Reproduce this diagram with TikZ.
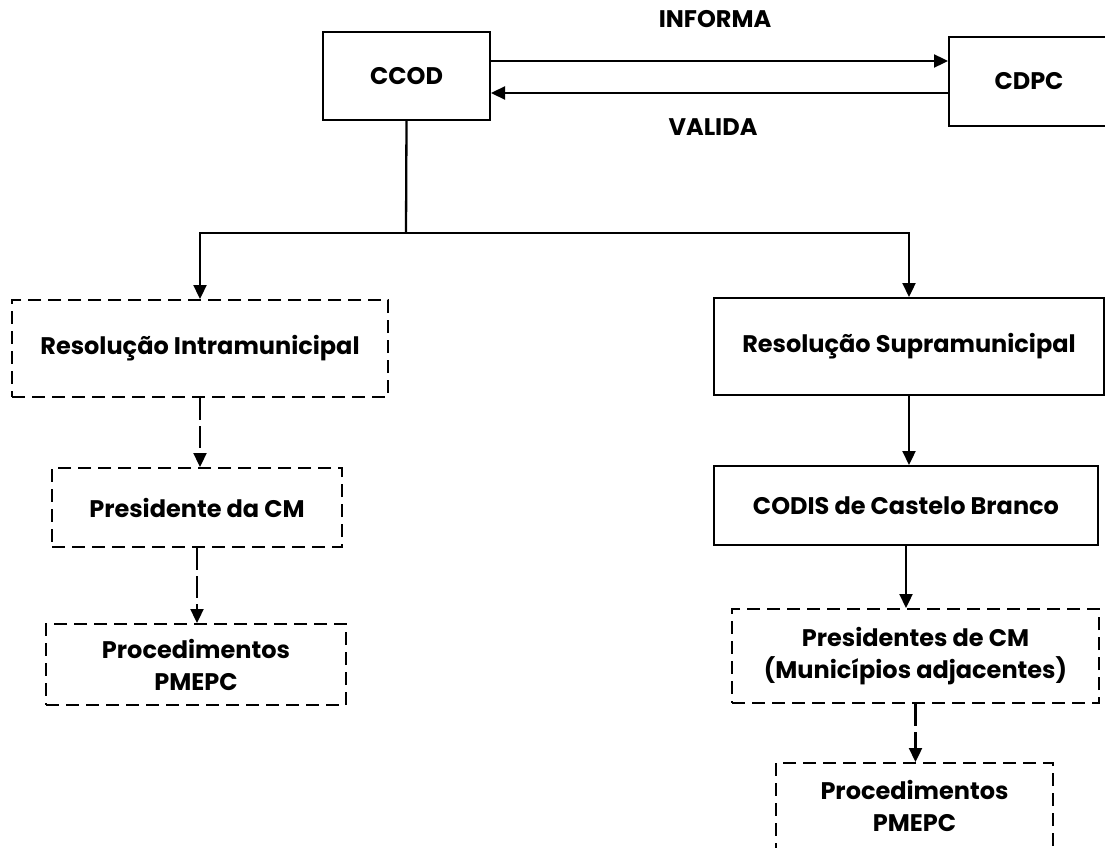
\documentclass[tikz,border=0pt]{standalone}
\usepackage{fontspec}
\setmainfont{Poppins}
\usetikzlibrary{arrows.meta}
\begin{document}
\begin{tikzpicture}[x=1pt,y=-1pt,
  every node/.style={font=\fontsize{24}{32}\selectfont\bfseries, align=center, inner sep=0pt},
  solidbox/.style={draw, line width=2pt, rectangle},
  dashbox/.style={draw, line width=2pt, rectangle, dash pattern=on 13pt off 7pt},
  arr/.style={line width=2.3pt, -{Triangle[length=14pt,width=13pt]}},
  darr/.style={arr, dash pattern=on 22pt off 6pt},
  conn/.style={line width=2.3pt}]
\useasboundingbox (0,0) rectangle (1105,848);
\node[solidbox, minimum width=167pt, minimum height=88pt] (ccod) at (406.5,76) {CCOD};
\node[solidbox, minimum width=160pt, minimum height=89pt] (cdpc) at (1029,81.5) {CDPC};
\node (informa) at (715,19) {INFORMA};
\node (valida) at (713,127) {VALIDA};
\node[dashbox, minimum width=376pt, minimum height=97pt] (intra) at (200,348.5) {Resolução Intramunicipal};
\node[solidbox, minimum width=390pt, minimum height=97pt] (supra) at (909,346.5) {Resolução Supramunicipal};
\node[dashbox, minimum width=290pt, minimum height=79pt] (pres) at (197,507.5) {Presidente da CM};
\node[dashbox, minimum width=300pt, minimum height=81pt] (proc1) at (196,664.5) {Procedimentos\\PMEPC};
\node[solidbox, minimum width=384pt, minimum height=79pt] (codis) at (906,505.5) {CODIS de Castelo Branco};
\node[dashbox, minimum width=367pt, minimum height=94pt] (press) at (915.5,656) {Presidentes de CM\\(Municípios adjacentes)};
\node[dashbox, minimum width=277pt, minimum height=86pt] (proc2) at (914.5,806) {Procedimentos\\PMEPC};
\coordinate (split) at (406,233);
\draw[arr] (ccod.east |- 0,61) -- (cdpc.west |- 0,61);
\draw[arr] (cdpc.west |- 0,93) -- (ccod.east |- 0,93);
\draw[conn] (ccod.south) -- (split);
\draw[arr] (split) -| (intra.north);
\draw[arr] (split) -| (supra.north);
\draw[darr] (intra.south) -- (intra.south |- pres.north);
\draw[darr] (pres.south) -- (pres.south |- proc1.north);
\draw[arr] (supra.south) -- (supra.south |- codis.north);
\draw[arr] (codis.south) -- (codis.south |- press.north);
\draw[darr] (press.south) -- (press.south |- proc2.north);
\end{tikzpicture}
\end{document}
